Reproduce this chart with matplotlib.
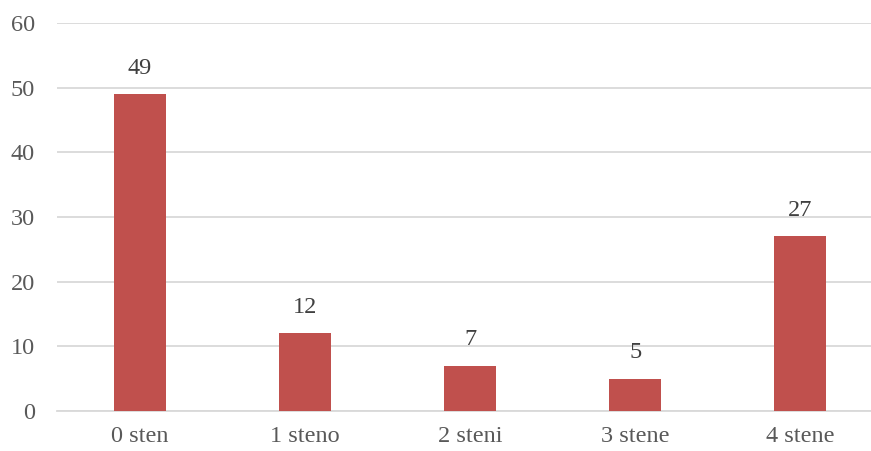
import matplotlib
matplotlib.use("Agg")
import matplotlib.pyplot as plt

categories = ["0 sten", "1 steno", "2 steni", "3 stene", "4 stene"]
values = [49, 12, 7, 5, 27]
y_ticks = [0, 10, 20, 30, 40, 50, 60]

plt.rcParams['font.family'] = ['Liberation Serif', 'DejaVu Serif']

fig = plt.figure(figsize=(8.71, 4.51), dpi=100)
# plot area runs a little past the right edge of the canvas
ax = fig.add_axes([57 / 871, 1 - 411 / 451, (883 - 57) / 871, (411 - 23) / 451])

x = range(len(categories))
bars = ax.bar(x, values, width=0.315, color="#C0504D", zorder=3)

for b, v in zip(bars, values):
    ax.annotate(str(v), (b.get_x() + b.get_width() / 2, v), xytext=(0, 11),
                textcoords="offset points", ha="center", va="bottom",
                fontsize=17.5, color="#404040")

ax.set_xlim(-0.5, len(categories) - 0.5)
ax.set_ylim(0, 60)
ax.set_yticks(y_ticks)
ax.set_xticks(list(x))
ax.set_xticklabels(categories)
ax.tick_params(axis="both", length=0, labelsize=17.5, colors="#595959")
ax.tick_params(axis="y", pad=16)
ax.tick_params(axis="x", pad=11)
ax.grid(axis="y", color="#D9D9D9", linewidth=1.3, zorder=0)
for s in ["top", "right", "left"]:
    ax.spines[s].set_visible(False)
ax.spines["bottom"].set_color("#D9D9D9")
ax.spines["bottom"].set_linewidth(1.3)

fig.savefig("out.png", dpi=100)
